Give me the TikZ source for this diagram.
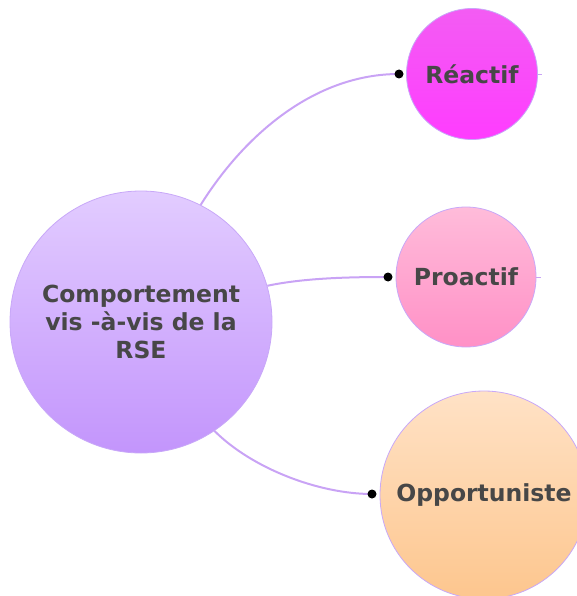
\documentclass[tikz,border=0pt]{standalone}
\usepackage{fontspec}
\setmainfont{DejaVu Sans}
\definecolor{linkline}{HTML}{C9A3F5}
\definecolor{ringline}{HTML}{C8A8F8}
\definecolor{labeltext}{HTML}{474747}
\definecolor{maintop}{HTML}{E2CCFF}
\definecolor{mainbot}{HTML}{C395FC}
\definecolor{reactop}{HTML}{F35CF3}
\definecolor{reacbot}{HTML}{FF3CFF}
\definecolor{proatop}{HTML}{FFBCDA}
\definecolor{proabot}{HTML}{FF90C6}
\definecolor{oppotop}{HTML}{FFE2C6}
\definecolor{oppobot}{HTML}{FDC68E}
\tikzset{
  bubble/.style={circle, draw=ringline, line width=0.8pt, inner sep=0pt,
    text=labeltext, font=\bfseries\fontsize{23.5}{28}\selectfont, align=center},
  link/.style={draw=linkline, line width=2pt},
  knob/.style={circle, fill=black, inner sep=0pt, minimum size=9pt},
}
\begin{document}
\begin{tikzpicture}[x=1pt, y=-1pt]
  \useasboundingbox (0,0) rectangle (577,596);
  \clip (0,0) rectangle (577,596);

  % central topic
  \node[bubble, minimum size=262pt, top color=maintop, bottom color=mainbot]
    (main) at (141,322) {Comportement\\vis -à-vis de la\\RSE};

  % branches
  \node[bubble, minimum size=131pt, top color=reactop, bottom color=reacbot]
    (reac) at (472,74) {Réactif};
  \node[bubble, minimum size=140pt, top color=proatop, bottom color=proabot]
    (proa) at (466,277) {Proactif};
  \node[bubble, minimum size=208pt, top color=oppotop, bottom color=oppobot]
    (oppo) at (484,495) {Opportuniste};

  % attachment points
  \coordinate (cr) at (399,74);
  \coordinate (cp) at (388,277);
  \coordinate (co) at (372,494);

  % connectors
  \draw[link] (main.63) to[out=58, in=180, looseness=0.9] (cr);
  \draw[link] (main.16) to[out=12, in=180, looseness=0.8] (cp);
  \draw[link] (main.-56) to[out=-45, in=180, looseness=0.8] (co);

  % black knobs on top of the connector ends
  \node[knob] (kr) at (cr) {};
  \node[knob] (kp) at (cp) {};
  \node[knob] (ko) at (co) {};

  % short stubs on the right of the branch bubbles
  \coordinate (sr) at (542,74);
  \coordinate (sp) at (541,277);
  \draw[linkline, line width=0.8pt] (reac.east) -- (sr);
  \draw[linkline, line width=0.8pt] (proa.east) -- (sp);
\end{tikzpicture}
\end{document}
